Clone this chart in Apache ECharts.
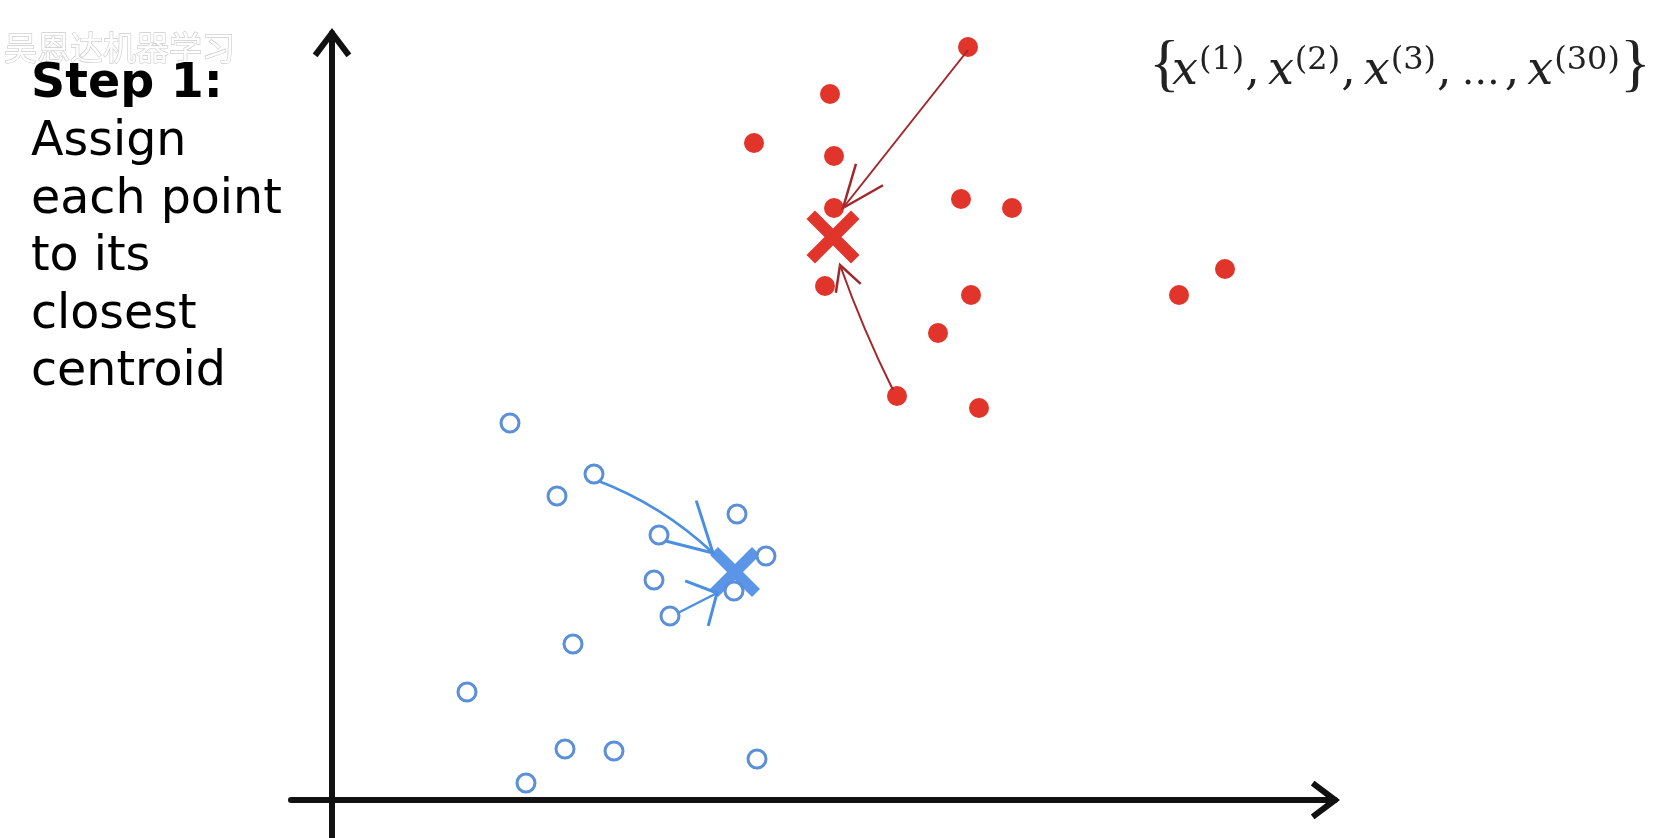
<!DOCTYPE html>
<html>
<head>
<meta charset="utf-8">
<script src="https://cdn.jsdelivr.net/npm/echarts@6/dist/echarts.min.js"></script>
<style>
  html, body { margin: 0; padding: 0; background: #fff; }
  #chart { width: 1662px; height: 838px; }
</style>
</head>
<body>
<div id="chart"></div>
<script>
// cluster points, axis units (origin where the two axes cross)
const redPoints = [
  [6.36, 7.53], [4.98, 7.06], [4.22, 6.57], [5.02, 6.44], [5.02, 5.92],
  [6.29, 6.01], [6.80, 5.92], [4.93, 5.14], [6.39, 5.05], [6.06, 4.67],
  [5.65, 4.04], [6.47, 3.92], [8.47, 5.05], [8.93, 5.31]
]
const bluePoints = [
  [1.78, 3.77], [2.62, 3.26], [2.25, 3.04], [4.05, 2.86], [3.27, 2.65],
  [4.34, 2.44], [3.22, 2.20], [4.02, 2.09], [3.38, 1.84], [2.41, 1.56],
  [1.35, 1.08], [2.33, 0.51], [2.82, 0.49], [4.25, 0.41], [1.94, 0.17]
]
const redCentroid = [[5.01, 5.63]]
const blueCentroid = [[4.03, 2.28]]

// hand drawn arrows: [from, to]
const redArrowA = [[6.36, 7.50], [5.11, 5.92]]
const redArrowB = [[5.61, 4.10], [5.08, 5.35]]
const blueArrowC = [[2.64, 3.20], [3.81, 2.47]]
const blueArrowD = [[3.40, 1.84], [3.85, 2.07]]

// axis extents
const xRange = [-0.41, 10.03]
const yRange = [-0.38, 7.67]

const stepTitle = 'Step 1:'
const stepLines = ['Assign', 'each point', 'to its', 'closest', 'centroid']
const sampleIdx = ['1', '2', '3']
const lastIdx = '30'
const watermark = '吴恩达机器学习'

// open arrow head, apex at the centre of its (square) box
const chevron = (halfDeg, len, thick) => {
  const a = halfDeg * Math.PI / 180
  const h = thick / 2
  const s = Math.sin(a), c = Math.cos(a)
  const f = (v) => v.toFixed(2)
  const arm = (sx) => {
    const dx = sx * s, dy = c
    const nx = sx * c, ny = -s
    const p = [
      [nx * h, ny * h],
      [nx * h + dx * len, ny * h + dy * len],
      [-nx * h + dx * len, -ny * h + dy * len],
      [-nx * h, -ny * h]
    ]
    return 'M' + p.map(q => f(q[0]) + ' ' + f(q[1])).join(' L') + ' Z'
  }
  const tip = `M${f(-c * h)} ${f(-s * h)} L0 ${f(-h / s)} L${f(c * h)} ${f(-s * h)} L0 0 Z`
  const r = len + thick
  const specks = `M${-r} ${-r} L${-r + 0.01} ${-r} L${-r} ${-r + 0.01} Z M${r} ${r} L${r - 0.01} ${r} L${r} ${r - 0.01} Z`
  return { path: 'path://' + arm(1) + ' ' + arm(-1) + ' ' + tip + ' ' + specks, size: 2 * r }
}

const axisHead = chevron(37, 28, 6)
const crossPath = 'path://M0 1.6 L1.6 0 L5 3.4 L8.4 0 L10 1.6 L6.6 5 L10 8.4 L8.4 10 L5 6.6 L1.6 10 L0 8.4 L3.4 5 Z'

const RED = '#e1342b'
const RED_DARK = '#a3262a'
const BLUE = '#5b8fd8'
const BLUE_X = '#5b95e8'
const BLUE_LINE = '#4b8fe0'

const axisCommon = {
  type: 'value',
  axisLine: {
    show: true,
    onZero: true,
    symbol: ['none', axisHead.path],
    symbolSize: [axisHead.size, axisHead.size],
    lineStyle: { color: '#111', width: 6 }
  },
  axisTick: { show: false },
  axisLabel: { show: false },
  splitLine: { show: false }
}

const arrowSeries = (coords, curveness, color, width, head) => ({
  type: 'lines',
  coordinateSystem: 'cartesian2d',
  silent: true,
  symbol: ['none', head.path],
  symbolSize: head.size,
  lineStyle: { color, width, curveness, opacity: 1 },
  data: [{ coords }],
  z: 4
})

const mathText = '{br|{}' +
  sampleIdx.map(k => `{x|x}{s|(${k})}{c|,}`).join('') +
  `{d|…}{c|,}{x|x}{s|(${lastIdx})}` + '}'

const chart = echarts.init(document.getElementById('chart'))

chart.setOption({
  animation: false,
  backgroundColor: '#fff',
  grid: { left: 291, right: 327, top: 33, bottom: 0 },
  xAxis: { ...axisCommon, min: xRange[0], max: xRange[1] },
  yAxis: { ...axisCommon, min: yRange[0], max: yRange[1] },
  graphic: [
    {
      type: 'text', x: 4, y: 47, silent: true,
      style: {
        text: watermark, font: '33px "Noto Sans CJK SC"',
        fill: '#ffffff', stroke: '#cccccc', lineWidth: 1.3, verticalAlign: 'middle'
      }
    },
    {
      type: 'text', x: 31, y: 85, silent: true,
      style: {
        text: stepTitle, font: 'bold 47.5px "DejaVu Sans"',
        fill: '#000', verticalAlign: 'middle'
      }
    },
    {
      type: 'text', x: 31, y: 114, silent: true,
      style: {
        text: stepLines.join('\n'), font: '47.5px "DejaVu Sans"',
        lineHeight: 57.5, fill: '#000', verticalAlign: 'top'
      }
    },
    {
      type: 'text', x: 1149, y: 35, silent: true,
      style: {
        text: mathText, fill: '#222', verticalAlign: 'top',
        fontFamily: 'Liberation Serif', fontSize: 64,
        rich: {
          br: { fontFamily: 'Liberation Serif', fontSize: 64, height: 64, width: 23, verticalAlign: 'bottom' },
          x: { fontFamily: 'DejaVu Serif', fontStyle: 'italic', fontSize: 46, height: 46, verticalAlign: 'bottom', padding: [0, 1, 4.4, 0] },
          s: { fontFamily: 'DejaVu Serif', fontSize: 32, height: 32, verticalAlign: 'bottom', padding: [0, 0, 22, 0] },
          c: { fontFamily: 'DejaVu Serif', fontSize: 46, height: 46, verticalAlign: 'bottom', padding: [0, 8, 4.4, 1] },
          d: { fontFamily: 'DejaVu Serif', fontSize: 38, height: 38, verticalAlign: 'bottom', padding: [0, 4, 6, 2] }
        }
      }
    }
  ],
  series: [
    {
      type: 'scatter',
      data: redPoints,
      symbol: 'circle',
      symbolSize: 20,
      itemStyle: { color: RED, opacity: 1 },
      silent: true,
      z: 2
    },
    {
      type: 'scatter',
      data: redCentroid,
      symbol: crossPath,
      symbolSize: 53,
      itemStyle: { color: RED, opacity: 1 },
      silent: true,
      z: 3
    },
    {
      type: 'scatter',
      data: blueCentroid,
      symbol: crossPath,
      symbolSize: 50,
      itemStyle: { color: BLUE_X, opacity: 1 },
      silent: true,
      z: 3
    },
    {
      type: 'scatter',
      data: bluePoints,
      symbol: 'circle',
      symbolSize: 18,
      itemStyle: { color: '#fff', borderColor: BLUE, borderWidth: 3, opacity: 1 },
      silent: true,
      z: 5
    },
    arrowSeries(redArrowA, 0.0, RED_DARK, 2, chevron(22, 46, 2.5)),
    arrowSeries(redArrowB, 0.03, RED_DARK, 2, chevron(28, 28, 2.5)),
    arrowSeries(blueArrowC, 0.1, BLUE_LINE, 2.5, chevron(29, 55, 3)),
    arrowSeries(blueArrowD, 0.0, BLUE_LINE, 2.5, chevron(48, 34, 3))
  ]
})
</script>
</body>
</html>
